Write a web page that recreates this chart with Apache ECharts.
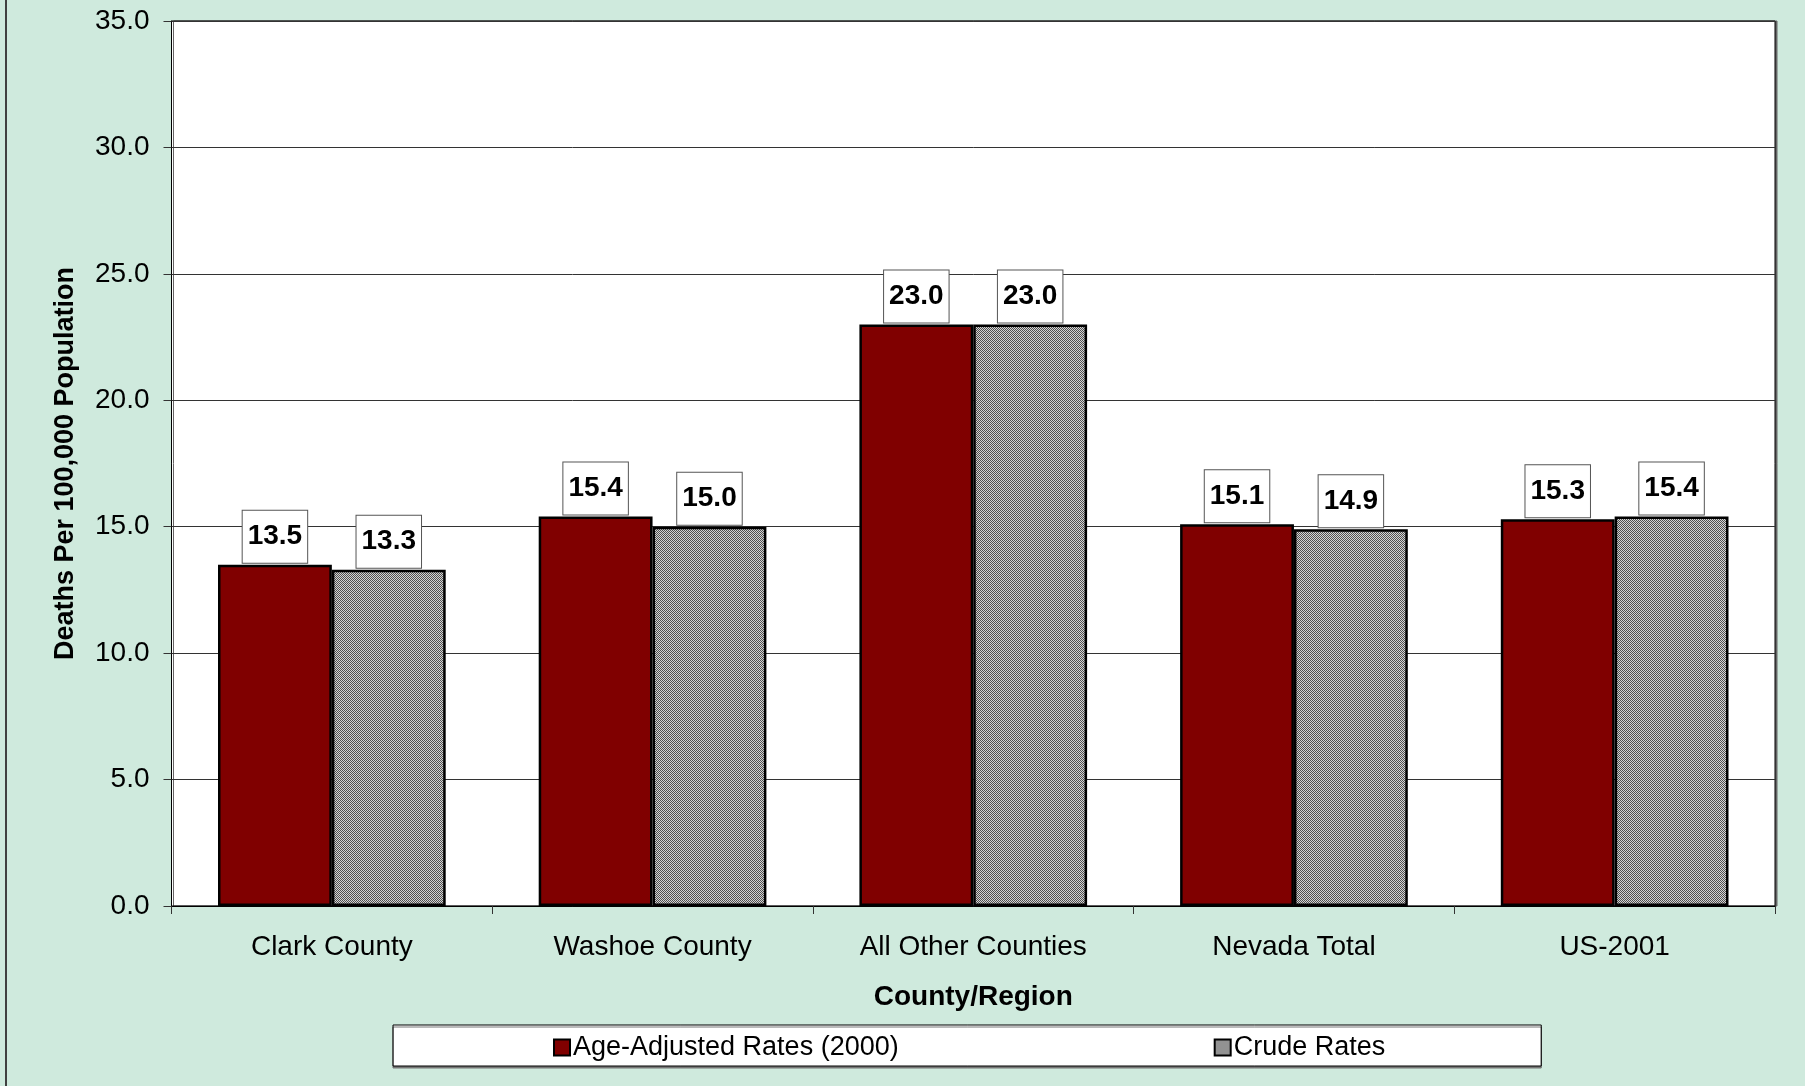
<!DOCTYPE html>
<html>
<head>
<meta charset="utf-8">
<script src="https://cdn.jsdelivr.net/npm/echarts@6/dist/echarts.min.js"></script>
<style>
html,body{margin:0;padding:0;background:#CFEADD;}
#chart{width:1805px;height:1086px;}
</style>
</head>
<body>
<div id="chart"></div>
<script>
var categories = ['Clark County', 'Washoe County', 'All Other Counties', 'Nevada Total', 'US-2001'];
var ageAdjusted = [13.5, 15.4, 23.0, 15.1, 15.3];
var crudeRates = [13.3, 15.0, 23.0, 14.9, 15.4];
var seriesNames = ['Age-Adjusted Rates (2000)', 'Crude Rates'];
var yTicks = { min: 0, max: 35, interval: 5 };

var FONT = "'Liberation Sans', Arial, sans-serif";

// fine dotted grey pattern for crude rates
var pc = document.createElement('canvas');
pc.width = 2; pc.height = 2;
var ctx = pc.getContext('2d');
ctx.fillStyle = '#d4d4d4'; ctx.fillRect(0, 0, 2, 2);
ctx.fillStyle = '#505050'; ctx.fillRect(0, 0, 1, 1); ctx.fillRect(1, 1, 1, 1);
var pattern = { image: pc, repeat: 'repeat' };

var labelCfg = {
  show: true,
  position: 'top',
  distance: 2,
  formatter: function (p) { return p.value.toFixed(1); },
  fontFamily: FONT,
  fontSize: 28,
  fontWeight: 'bold',
  color: '#000',
  lineHeight: 28,
  backgroundColor: '#fff',
  borderColor: '#555',
  borderWidth: 1,
  padding: [12, 5, 12, 5]
};

var chart = echarts.init(document.getElementById('chart'), null, { renderer: 'canvas' });
chart.setOption({
  backgroundColor: '#CFEADD',
  animation: false,
  textStyle: { fontFamily: FONT },
  graphic: [
    { type: 'rect', shape: { x: 5, y: 0, width: 2, height: 1086 }, style: { fill: '#404040' }, silent: true }
  ],
  grid: {
    left: 171.5, right: 30, top: 21, bottom: 180,
    show: true, backgroundColor: '#fff', borderColor: '#000', borderWidth: 1,
    shadowColor: '#666', shadowOffsetX: 2, shadowOffsetY: 0, shadowBlur: 0
  },
  legend: {
    left: 393, top: 1025,
    data: seriesNames,
    itemWidth: 16, itemHeight: 16, itemGap: 315,
    icon: 'rect',
    backgroundColor: '#fff', borderColor: '#000', borderWidth: 1,
    padding: [9, 156, 5, 160],
    shadowColor: '#777', shadowOffsetY: 2, shadowOffsetX: 0, shadowBlur: 0,
    textStyle: { fontFamily: FONT, fontSize: 27, color: '#000', padding: [0, 0, 0, -2] }
  },
  xAxis: {
    type: 'category',
    data: categories,
    name: 'County/Region',
    nameLocation: 'middle',
    nameGap: 77,
    nameTextStyle: { fontFamily: FONT, fontSize: 28, fontWeight: 'bold', color: '#000' },
    axisLine: { lineStyle: { color: '#000', width: 1 } },
    axisTick: { show: true, length: 8, lineStyle: { color: '#333' } },
    axisLabel: { fontFamily: FONT, fontSize: 28, color: '#000', margin: 27 }
  },
  yAxis: {
    type: 'value',
    min: yTicks.min, max: yTicks.max, interval: yTicks.interval,
    name: 'Deaths Per 100,000 Population',
    nameLocation: 'middle',
    nameGap: 92,
    nameTextStyle: { fontFamily: FONT, fontSize: 27, fontWeight: 'bold', color: '#000' },
    axisLine: { show: true, lineStyle: { color: '#000', width: 1 } },
    axisTick: { show: true, length: 8, lineStyle: { color: '#333' } },
    axisLabel: { fontFamily: FONT, fontSize: 28, color: '#000', margin: 22,
      formatter: function (v) { return v.toFixed(1); } },
    splitLine: { show: true, lineStyle: { color: '#333', width: 1 } }
  },
  series: [
    {
      name: seriesNames[0], type: 'bar', data: ageAdjusted,
      barGap: '0%', barCategoryGap: '29%',
      itemStyle: { color: '#800000', borderColor: '#000', borderWidth: 2.5 },
      label: labelCfg
    },
    {
      name: seriesNames[1], type: 'bar', data: crudeRates,
      barGap: '0%', barCategoryGap: '29%',
      itemStyle: { color: pattern, borderColor: '#000', borderWidth: 2.5 },
      label: labelCfg
    }
  ]
});
</script>
</body>
</html>
